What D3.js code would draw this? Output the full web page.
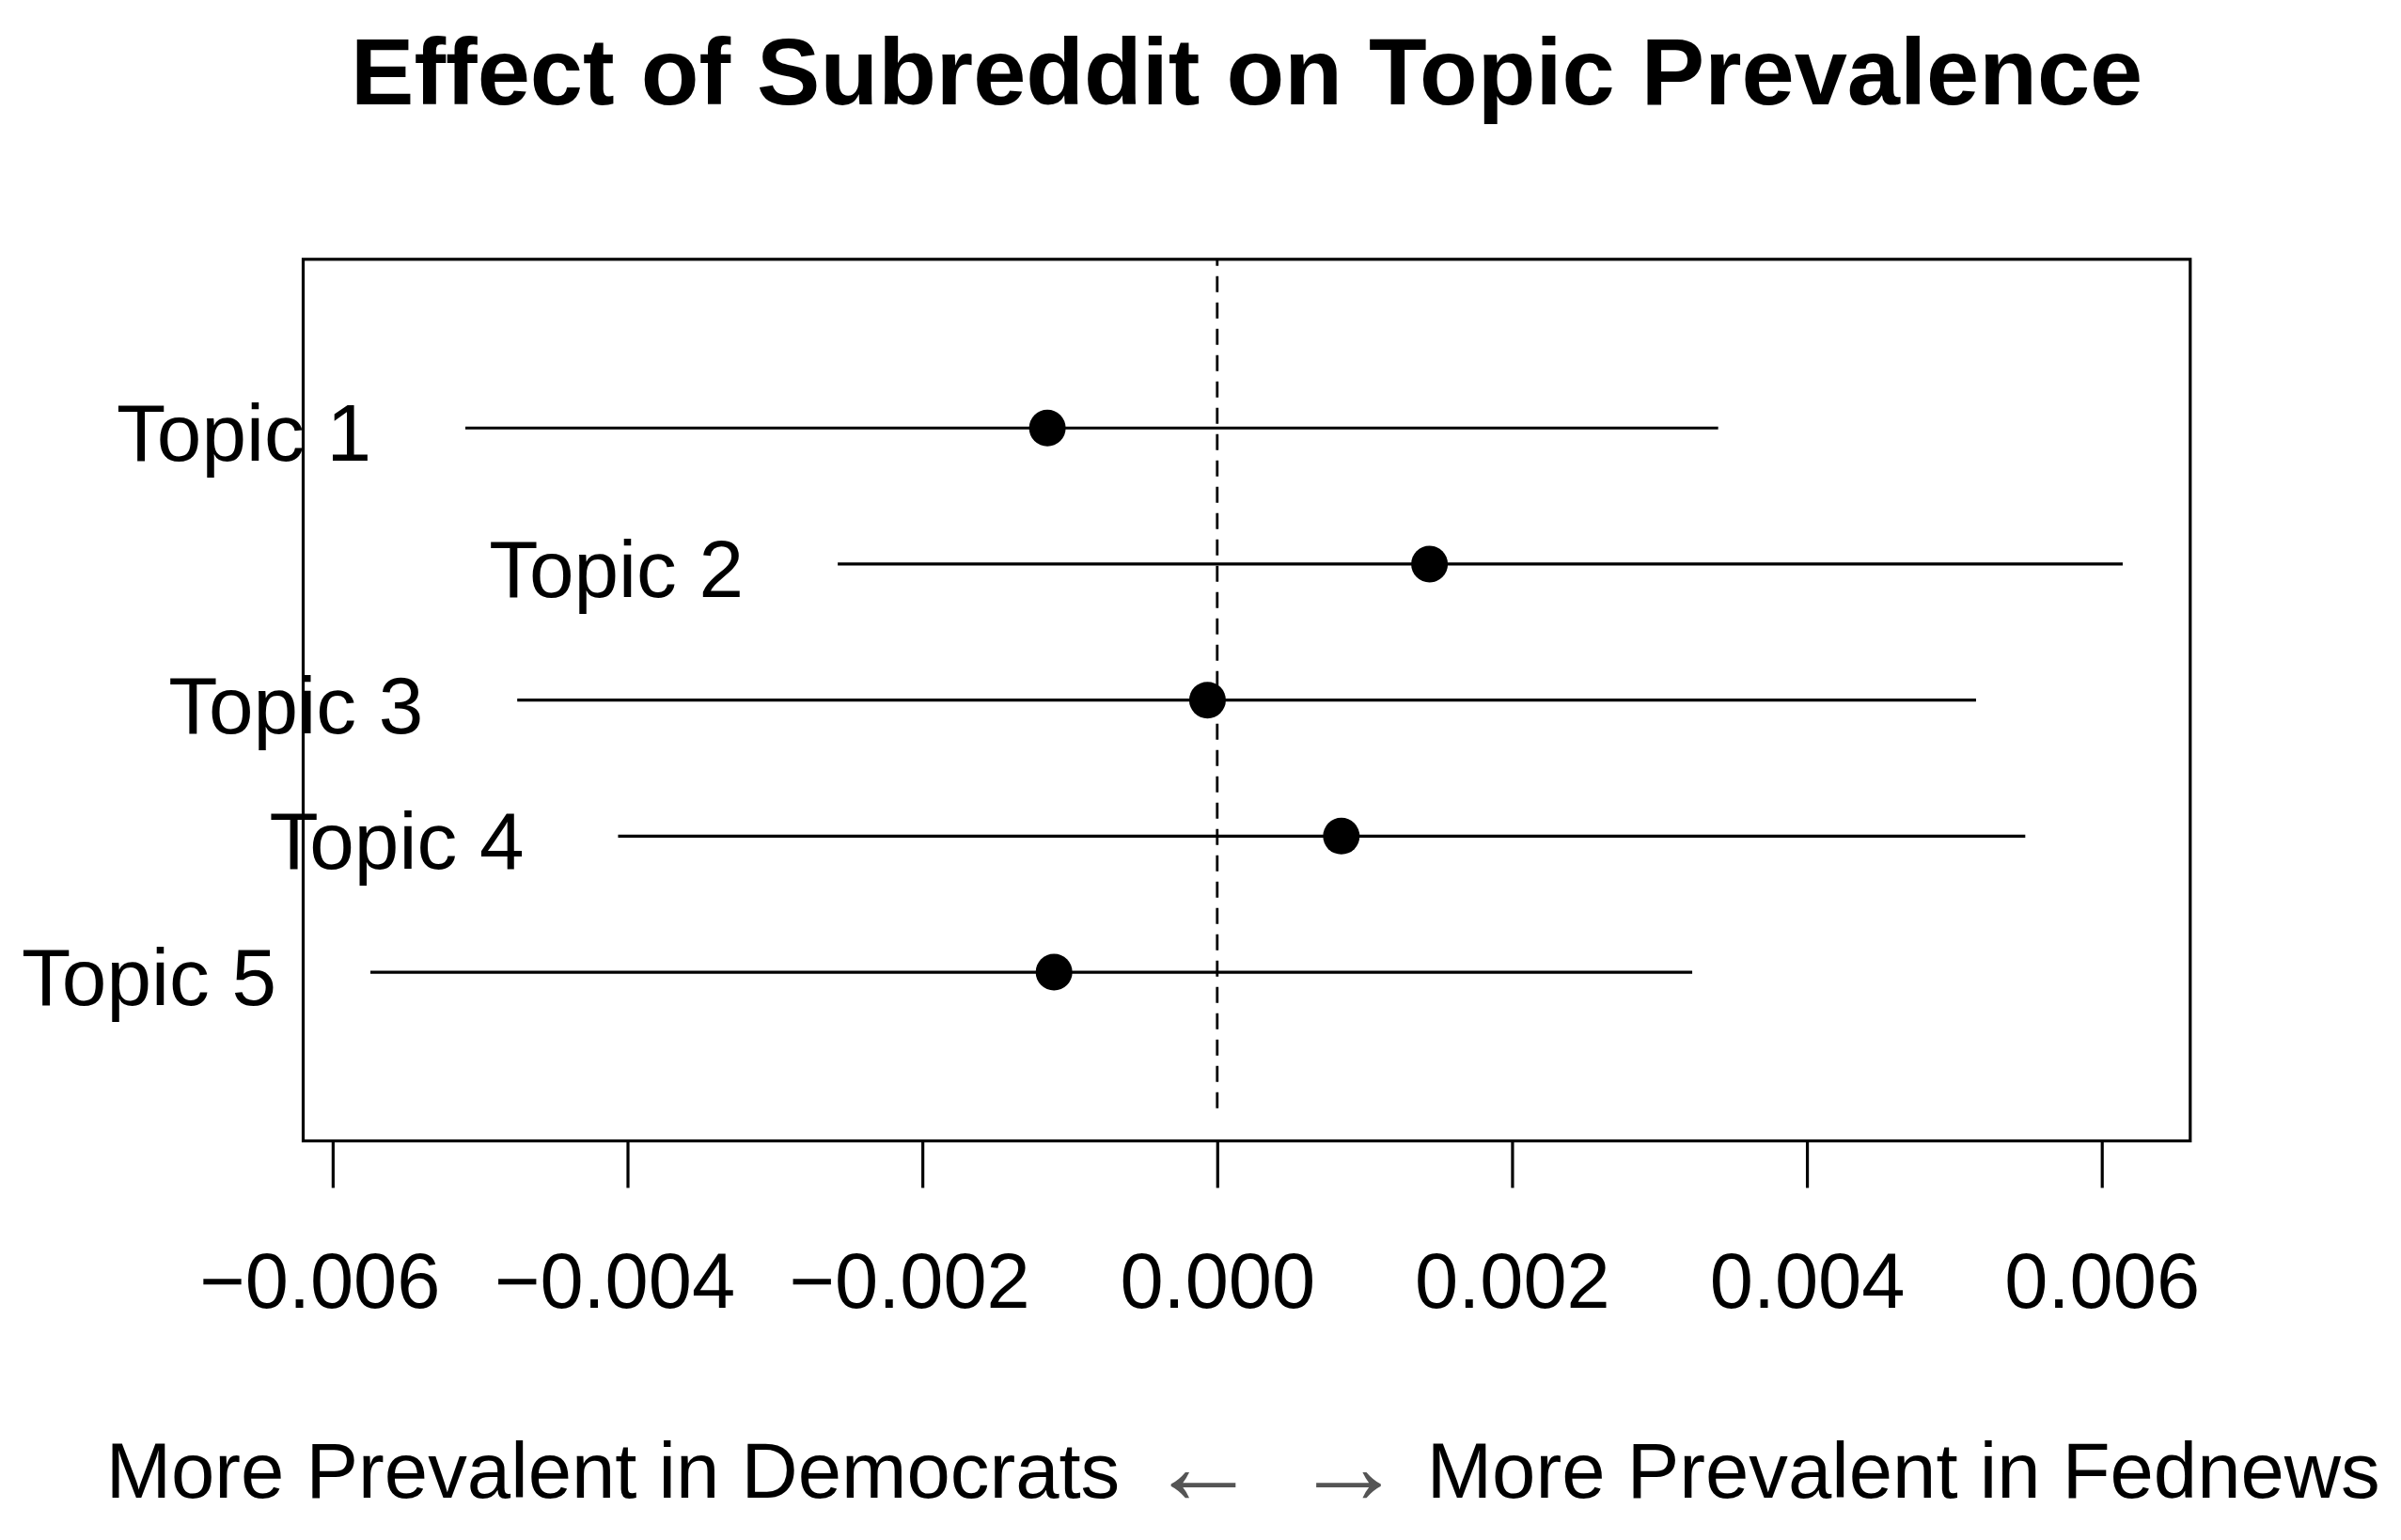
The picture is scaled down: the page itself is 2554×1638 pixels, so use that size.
<!DOCTYPE html>
<html><head><meta charset="utf-8">
<script src="https://cdn.jsdelivr.net/npm/d3@7"></script>
<style>
html,body{margin:0;padding:0;background:#fff;}
svg{display:block;background:#fff;}
</style></head><body>
<svg id="chart" width="2554" height="1638"></svg>
<script>
// ---- data ----
const topics = ["Topic 1", "Topic 2", "Topic 3", "Topic 4", "Topic 5"];
const topicPos = [5, 4, 3, 2, 1];
const means = [-0.001152, 0.00144, -0.000066, 0.000842, -0.001107];
const lower = [-0.0051, -0.002574, -0.004748, -0.004064, -0.005744];
const upper = [0.003398, 0.006142, 0.005147, 0.005481, 0.003222];
const xTicks = [-0.006, -0.004, -0.002, 0, 0.002, 0.004, 0.006];
const xTickLabels = ["\u22120.006", "\u22120.004", "\u22120.002", "0.000", "0.002", "0.004", "0.006"];
const xDomain = [-0.0062, 0.0066];
const yDomain = [-0.24, 6.24];
const titleText = "Effect of Subreddit on Topic Prevalence";
const xLabelLeft = "More Prevalent in Democrats";
const xLabelRight = "More Prevalent in Fednews";

// ---- layout ----
const FONT = '"Liberation Sans", Arial, Helvetica, sans-serif';
const svg = d3.select("#chart");
const plot = {left: 322.5, right: 2329.8, top: 275.8, bottom: 1213.5};

const x = d3.scaleLinear().domain(xDomain).range([plot.left, plot.right]);
const y = d3.scaleLinear().domain(yDomain).range([plot.bottom, plot.top]);

const rows = topics.map((t, i) => ({label: t, pos: topicPos[i], mean: means[i], lo: lower[i], hi: upper[i]}));

// title
svg.append("text")
  .attr("x", (plot.left + plot.right) / 2)
  .attr("y", 111)
  .attr("text-anchor", "middle")
  .attr("font-family", FONT)
  .attr("font-weight", "bold")
  .attr("font-size", 101)
  .attr("fill", "#000")
  .text(titleText);

// dashed zero line
svg.append("line")
  .attr("x1", x(0)).attr("x2", x(0))
  .attr("y1", y(0)).attr("y2", y(yDomain[1]))
  .attr("stroke", "#000")
  .attr("stroke-width", 2.8)
  .attr("stroke-dasharray", "17,11");

// CI lines
svg.append("g").selectAll("line").data(rows).join("line")
  .attr("x1", d => x(d.lo)).attr("x2", d => x(d.hi))
  .attr("y1", d => y(d.pos)).attr("y2", d => y(d.pos))
  .attr("stroke", "#000")
  .attr("stroke-width", 3.2);

// points
svg.append("g").selectAll("circle").data(rows).join("circle")
  .attr("cx", d => x(d.mean))
  .attr("cy", d => y(d.pos))
  .attr("r", 19.5)
  .attr("fill", "#000");

// topic labels (to the left of CI)
svg.append("g").selectAll("text").data(rows).join("text")
  .attr("x", d => x(d.lo) - 100)
  .attr("y", d => y(d.pos))
  .attr("dy", "0.41em")
  .attr("text-anchor", "end")
  .attr("font-family", FONT)
  .attr("font-size", 85.5)
  .attr("fill", "#000")
  .text(d => d.label);

// box
svg.append("rect")
  .attr("x", plot.left).attr("y", plot.top)
  .attr("width", plot.right - plot.left)
  .attr("height", plot.bottom - plot.top)
  .attr("fill", "none")
  .attr("stroke", "#000")
  .attr("stroke-width", 3.2);

// x axis
const xAxis = d3.axisBottom(x)
  .tickValues(xTicks)
  .tickFormat((d, i) => xTickLabels[i])
  .tickSize(50)
  .tickPadding(69);
const gx = svg.append("g")
  .attr("transform", `translate(0,${plot.bottom})`)
  .call(xAxis);
gx.select(".domain").remove();
gx.attr("font-family", FONT).attr("font-size", 83);
gx.selectAll(".tick line").attr("stroke", "#000").attr("stroke-width", 3.2);
gx.selectAll(".tick text").attr("fill", "#000")
  .attr("dx", (d, i) => xTickLabels[i].startsWith("\u2212") ? -14 : 0);

// x label with arrows
const xl = svg.append("text")
  .attr("x", (plot.left + plot.right) / 2 - 4)
  .attr("y", 1593)
  .attr("text-anchor", "middle")
  .attr("font-family", FONT)
  .attr("font-size", 83.3)
  .attr("fill", "#000")
  .style("white-space", "pre");
xl.append("tspan").text(xLabelLeft);
xl.append("tspan").attr("font-size", 55).text("  ");
xl.append("tspan").attr("fill", "#555").attr("font-size", 116).attr("dy", 6).text("\u2190");
xl.append("tspan").attr("font-size", 46).attr("dy", -6).text("   ");
xl.append("tspan").attr("fill", "#555").attr("font-size", 116).attr("dy", 6).text("\u2192");
xl.append("tspan").attr("font-size", 46).attr("dy", -6).text("  ");
xl.append("tspan").text(xLabelRight);
</script>
</body></html>
